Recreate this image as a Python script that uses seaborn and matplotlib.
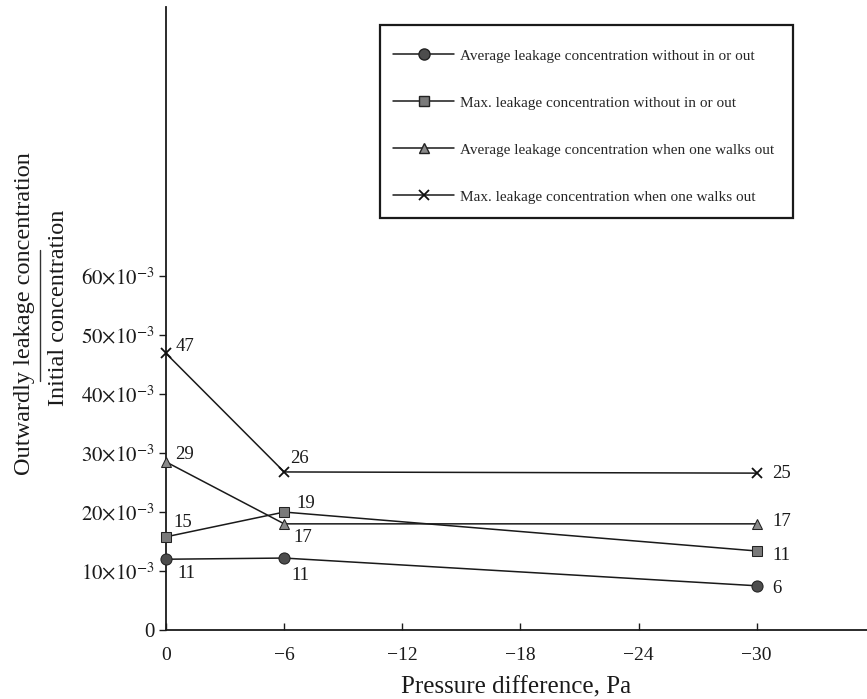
import matplotlib
matplotlib.use("Agg")
import matplotlib.pyplot as plt
from matplotlib.lines import Line2D
from matplotlib.patches import Rectangle
import seaborn as sns
import numpy as np
import pandas as pd

sns.set_style("ticks")
plt.rcParams["font.family"] = ["Liberation Serif", "DejaVu Serif"]
plt.rcParams["mathtext.fontset"] = "stix"

# data  (values x 10^-3) ######################################################
pressure = [0, -6, -30]
avg_without = [12.0, 12.2, 7.5]
max_without = [15.8, 20.0, 13.4]
avg_walk_out = [28.5, 18.0, 18.0]
max_walk_out = [46.9, 26.8, 26.6]

labels_avg_without = ["11", "11", "6"]
labels_max_without = ["15", "19", "11"]
labels_avg_walk_out = ["29", "17", "17"]
labels_max_walk_out = ["47", "26", "25"]

series_names = ["Average leakage concentration without in or out",
                "Max. leakage concentration without in or out",
                "Average leakage concentration when one walks out",
                "Max. leakage concentration when one walks out"]

x_ticks = [0, -6, -12, -18, -24, -30]
y_ticks = [0, 10, 20, 30, 40, 50, 60]

# styles #######################################################################
styles = [
    dict(marker="o", markersize=8, markerfacecolor="#4d4d4d", markeredgecolor="#222222"),
    dict(marker="s", markersize=7, markerfacecolor="#7a7a7a", markeredgecolor="#222222"),
    dict(marker="^", markersize=7.5, markerfacecolor="#8a8a8a", markeredgecolor="#222222"),
    dict(marker="x", markersize=7, markeredgecolor="#111111", markeredgewidth=1.3),
]
# label offsets in points (dx, dy)
offsets = [
    [(8, -10), (5, -12.5), (11, -2)],
    [(5, 10), (8.5, 6.5), (11.5, -3)],
    [(6.5, 5), (6.5, -10), (11, 1.5)],
    [(7, 5), (4.5, 10), (11, 0)],
]


def plot_series(ax, values, labels, name, style, offs):
    df = pd.DataFrame({"p": pressure, "c": np.array(values) / 1000.0})
    sns.lineplot(x="p", y="c", data=df, ax=ax, color="#1a1a1a", linewidth=1.1,
                 sort=False, estimator=None, label=name, legend=False,
                 clip_on=False, zorder=3, **style)
    for xv, yv, txt, (dx, dy) in zip(df.p, df.c, labels, offs):
        ax.annotate(txt, (xv, yv), xytext=(dx, dy), textcoords="offset points",
                    ha="left", va="center", fontsize=13.5, color="#1a1a1a")


fig = plt.figure(figsize=(8.67, 6.99), dpi=100)
ax = fig.add_axes([0.1915, 0.0987, 0.8085, 0.891])

all_values = [avg_without, max_without, avg_walk_out, max_walk_out]
all_labels = [labels_avg_without, labels_max_without, labels_avg_walk_out,
              labels_max_walk_out]
for vals, labs, name, st, offs in zip(all_values, all_labels, series_names, styles, offsets):
    plot_series(ax, vals, labs, name, st, offs)

ax.set_xlim(0, -35.6)
ax.set_ylim(0, 0.1056)
ax.set_xticks(x_ticks)
ax.set_xticklabels(["0"] + ["\u2212%d" % abs(t) for t in x_ticks[1:]], fontsize=14)
ax.set_yticks([t / 1000.0 for t in y_ticks])
ax.set_yticklabels(["0"] + [r"$%d{\times}10^{-3}$" % t for t in y_ticks[1:]], fontsize=15)
ax.tick_params(axis="x", direction="in", length=5, width=1, pad=12, colors="#1a1a1a")
ax.tick_params(axis="y", direction="out", length=5, width=1, pad=3, colors="#1a1a1a")
sns.despine(ax=ax)
for s in ["left", "bottom"]:
    ax.spines[s].set_linewidth(1.3)
    ax.spines[s].set_color("#1a1a1a")

ax.set_xlabel("Pressure difference, Pa", fontsize=18, color="#1a1a1a", labelpad=9)
ax.set_ylabel("")
fig.text(0.028, 0.552, "Outwardly leakage concentration", rotation=90,
         ha="center", va="center", fontsize=17.5, color="#1a1a1a")
fig.text(0.068, 0.559, "Initial concentration", rotation=90,
         ha="center", va="center", fontsize=17.5, color="#1a1a1a")
fig.add_artist(Line2D([0.046, 0.046], [0.455, 0.642], transform=fig.transFigure,
                      color="#333333", linewidth=1.0))

# legend: entries without frame, box drawn separately
handles = [Line2D([], [], color="#1a1a1a", linewidth=1.1, **st) for st in styles]
leg = ax.legend(handles, series_names, loc="upper left", bbox_to_anchor=(0.324, 0.933),
                fontsize=11, frameon=False, handlelength=4.0, handletextpad=0.4,
                labelspacing=2.18, borderpad=0, borderaxespad=0)
ax.add_patch(Rectangle((0.305, 0.661), 0.59, 0.31, transform=ax.transAxes,
                       fill=False, edgecolor="#1a1a1a", linewidth=1.6, clip_on=False))

fig.savefig("out.png", dpi=100)
